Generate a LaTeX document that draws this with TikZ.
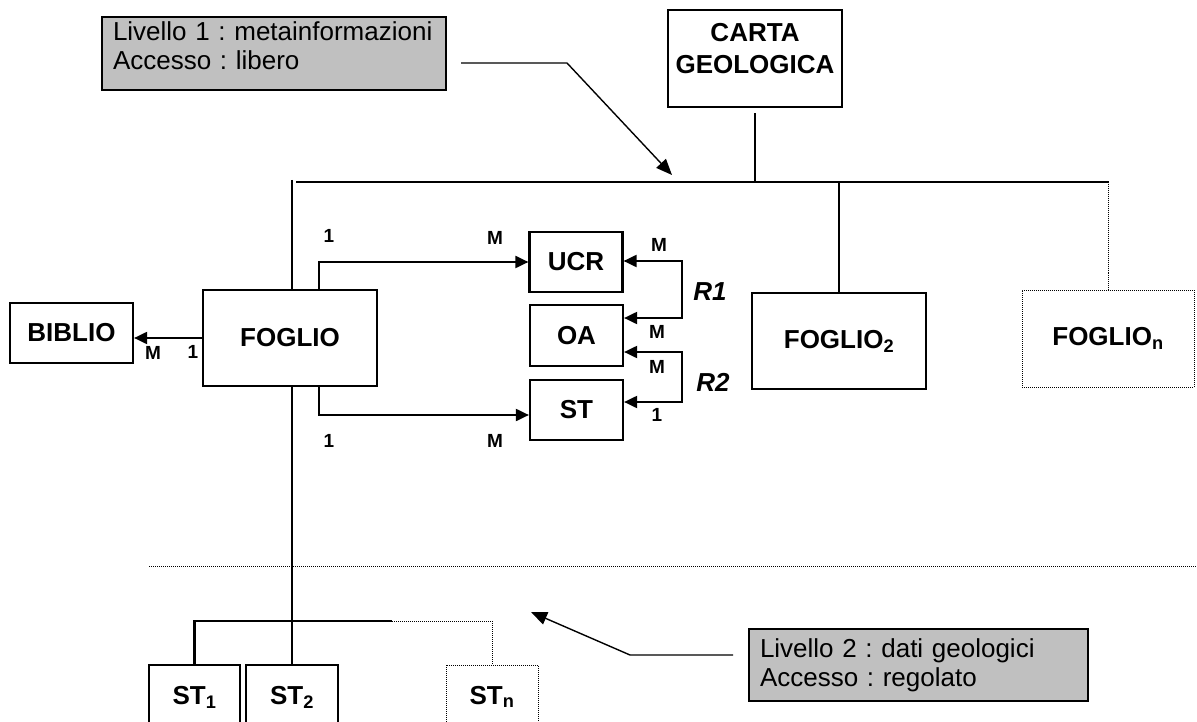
\documentclass[tikz,border=0pt]{standalone}
\usepackage{fontspec}
\setmainfont{Liberation Sans}
\usetikzlibrary{arrows.meta,positioning}
\definecolor{infogray}{RGB}{192,192,192}
\frenchspacing

\begin{document}
\begin{tikzpicture}[
    x=1pt, y=-1pt,
    box/.style={rectangle, draw, line width=2.2pt, inner sep=0pt, align=center, font=\fontsize{26}{32}\selectfont\bfseries},
    dotbox/.style={box, line width=1pt, dash pattern=on 1pt off 1pt},
    info/.style={rectangle, draw, line width=2pt, fill=infogray, align=left, inner xsep=11pt, inner ysep=3pt, font=\fontsize{26}{29}\selectfont},
    card/.style={font=\fontsize{19}{21}\selectfont\bfseries, inner sep=0pt},
    rel/.style={font=\fontsize{26}{28}\selectfont\bfseries\itshape, inner sep=0pt},
    arrow/.style={-{Triangle[length=13pt, width=12pt]}, line width=2pt},
    biarrow/.style={{Triangle[length=13pt, width=12pt]}-{Triangle[length=13pt, width=12pt]}, line width=2pt},
    pointer/.style={-{Triangle[length=16pt, width=13pt]}, line width=1.4pt},
    link/.style={line width=2.2pt},
    dotlink/.style={line width=1pt, dash pattern=on 1pt off 1pt},
]
    \useasboundingbox (0,0) rectangle (1197,722);

    % Level 1 note and root
    \node[info, text width=322pt, minimum height=73pt] (liv1) at (274,53.5) {Livello 1 : metainformazioni\\Accesso : libero\rule[-16pt]{0pt}{16pt}};
    \node[box, minimum width=174pt, minimum height=97pt] (carta) at (755,58.5) {CARTA\\GEOLOGICA\rule[-20pt]{0pt}{20pt}};

    % Sheets
    \node[box, minimum width=174pt, minimum height=96pt] (foglio) at (290,338) {FOGLIO};
    \node[box, minimum width=174pt, minimum height=96pt] (foglio2) at (839,341) {FOGLIO\textsubscript{2}};
    \node[dotbox, minimum width=172pt, minimum height=97pt] (foglion) at (1108,338.5) {FOGLIO\textsubscript{n}};
    \node[box, minimum width=123pt, minimum height=60pt] (biblio) at (71.5,333) {BIBLIO};

    % Entities of the sheet
    \node[box, minimum width=93pt, minimum height=60pt] (ucr) at (576,262) {UCR};
    \node[box, minimum width=93pt, minimum height=61pt] (oa) at (576.5,335.5) {OA};
    \node[box, minimum width=93pt, minimum height=60pt] (st) at (576.5,410) {ST};

    % Level 2
    \node[box, minimum width=91pt, minimum height=64pt] (st1) at (194.5,697) {ST\textsubscript{1}};
    \node[box, minimum width=92pt, minimum height=64pt] (st2) at (292,697) {ST\textsubscript{2}};
    \node[dotbox, minimum width=92pt, minimum height=64pt] (stn) at (492,697) {ST\textsubscript{n}};
    \node[info, minimum width=339pt, minimum height=72pt, text width=317pt] (liv2) at (918.5,665) {Livello 2 : dati geologici\\Accesso : regolato};

    % Tree lines
    \coordinate (busL) at (296,182);
    \coordinate (busR) at (1109,182);
    \coordinate (topL) at (292,180);
    \draw[link, line width=2.8pt] (busL) -- (busR);
    \draw[link] (topL) -- (topL |- foglio.north);
    \draw[link] ([yshift=-5pt]carta.south) -- (carta.south |- busL);
    \draw[link] (foglio2.north) -- (foglio2.north |- busL);
    \draw[dotlink] (foglion.north) -- (foglion.north |- busR);
    \draw[link] (st2.north |- foglio.south) -- (st2.north);

    \coordinate (subEnd) at (392,621);
    \draw[link, line width=2.8pt] (st1.north) |- (subEnd);
    \draw[dotlink] (subEnd) -| (stn.north);

    % Level divider
    \coordinate (divL) at (149,566);
    \coordinate (divR) at (1197,566);
    \draw[dotlink] (divL) -- (divR);

    % Relations
    \draw[arrow] ([xshift=29pt]foglio.north) |- (ucr.west);
    \draw[arrow] ([xshift=29pt]foglio.south) |- ([yshift=-5pt]st.west);
    \draw[arrow] (foglio.west) -- (foglio.west -| biblio.east);

    \coordinate (r1a) at (682,261);
    \coordinate (r1b) at (682,318);
    \coordinate (r2a) at (682,352);
    \coordinate (r2b) at (682,402);
    \draw[biarrow] (ucr.east |- r1a) -- (r1a) -- (r1b) -- (oa.east |- r1b);
    \draw[biarrow] (oa.east |- r2a) -- (r2a) -- (r2b) -- (st.east |- r2b);

    % Cardinalities
    \node[card] (cUcr1) at (329,236) {1};
    \node[card] (cUcrM) at (495,238) {M};
    \node[card] (cSt1) at (329,441) {1};
    \node[card] (cStM) at (495,441) {M};
    \node[card] (cR1a) at (659,245) {M};
    \node[card] (cR1b) at (657,332) {M};
    \node[card] (cR2a) at (657,367) {M};
    \node[card] (cR2b) at (657,415) {1};
    \node[card] (cBibM) at (153,353) {M};
    \node[card] (cBib1) at (193,352) {1};
    \node[rel] (r1) at (710,292) {R1};
    \node[rel] (r2) at (713,382) {R2};

    % Pointers from the notes
    \coordinate (l1s) at (461,63);
    \coordinate (l1k) at (567,63);
    \coordinate (l1t) at (672,175);
    \draw[pointer] (l1s) -- (l1k) -- (l1t);
    \coordinate (l2s) at (733,655);
    \coordinate (l2k) at (630,655);
    \coordinate (l2t) at (531,612);
    \draw[pointer] (l2s) -- (l2k) -- (l2t);
\end{tikzpicture}
\end{document}
